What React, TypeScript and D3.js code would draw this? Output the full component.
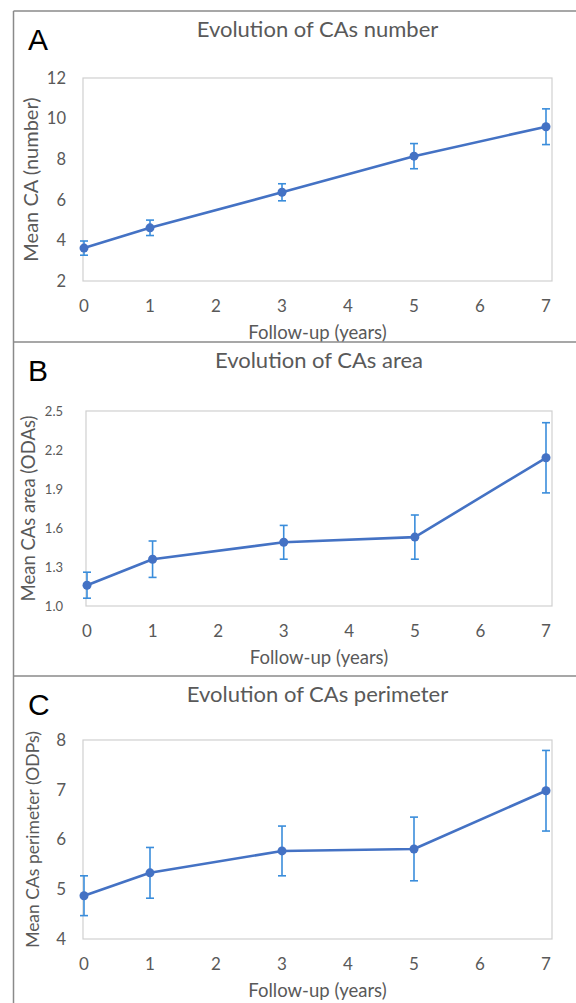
import * as d3 from "d3"

// follow-up years where a measurement exists
const years = [0, 1, 3, 5, 7]
const xTicks = [0, 1, 2, 3, 4, 5, 6, 7]

// A: number of CAs
const numberMean = [3.62, 4.62, 6.37, 8.15, 9.6]
const numberErr = [0.35, 0.38, 0.42, 0.62, 0.88]
const numberTicks = [2, 4, 6, 8, 10, 12]

// B: area (ODAs)
const areaMean = [1.16, 1.36, 1.49, 1.53, 2.14]
const areaErr = [0.1, 0.14, 0.13, 0.17, 0.27]
const areaTicks = [1.0, 1.3, 1.6, 1.9, 2.2, 2.5]

// C: perimeter (ODPs)
const perimMean = [4.87, 5.33, 5.77, 5.81, 6.98]
const perimErr = [0.4, 0.51, 0.5, 0.64, 0.81]
const perimTicks = [4, 5, 6, 7, 8]

const FONT = "Lato, 'Open Sans', sans-serif"
const TEXT = "#595959"
const LINE = "#4472C4"
const ERR = "#3A8DDB"

type PanelProps = {
    letter: string
    title: string
    yTitle: string
    mean: number[]
    err: number[]
    ticks: number[]
    fmt: (v: number) => string
    top: number
    plot: { l: number; r: number; t: number; b: number }
    tickSize: number
    yTitleSize: number
    yLabelRight: number
    yTitleX: number
}

function Panel({ letter, title, yTitle, mean, err, ticks, fmt, top, plot, tickSize, yTitleSize, yLabelRight, yTitleX }: PanelProps) {
    const x = d3.scaleLinear().domain([0, 7]).range([plot.l + 1, plot.r - 6])
    const y = d3
        .scaleLinear()
        .domain([ticks[0], ticks[ticks.length - 1]])
        .range([plot.b, plot.t])

    const series = years.map((yr, i) => ({ yr, v: mean[i], e: err[i] }))
    const path =
        d3
            .line<{ yr: number; v: number }>()
            .x((d) => x(d.yr))
            .y((d) => y(d.v))(series) || ""

    const cx = (plot.l + plot.r) / 2
    const cy = (plot.t + plot.b) / 2

    return (
        <g>
            {/* panel frame */}
            <line x1={13.5} y1={top} x2={576} y2={top} stroke="#8a8a8a" strokeWidth={1.5} />
            <text x={28} y={top + 39} fontFamily="'Liberation Sans', Arial, sans-serif" fontSize={30} fill="#000">
                {letter}
            </text>
            <text x={cx} y={top + 18} dy="0.35em" textAnchor="middle" fontFamily={FONT} fontSize={22} fill={TEXT}>
                {title}
            </text>

            <rect x={plot.l} y={plot.t} width={plot.r - plot.l} height={plot.b - plot.t} fill="none" stroke="#d0d0d0" strokeWidth={1.2} />

            {ticks.map((t) => (
                <text key={t} x={yLabelRight} y={y(t)} dy="0.35em" textAnchor="end" fontFamily={FONT} fontSize={tickSize} fill={TEXT}>
                    {fmt(t)}
                </text>
            ))}
            {xTicks.map((t) => (
                <text key={t} x={x(t)} y={plot.b + 25} dy="0.35em" textAnchor="middle" fontFamily={FONT} fontSize={17} fill={TEXT}>
                    {t}
                </text>
            ))}
            <text x={cx} y={plot.b + 52} dy="0.35em" textAnchor="middle" fontFamily={FONT} fontSize={18.5} fill={TEXT}>
                Follow-up (years)
            </text>
            <text
                transform={`translate(${yTitleX},${cy}) rotate(-90)`}
                dy="0.35em"
                textAnchor="middle"
                fontFamily={FONT}
                fontSize={yTitleSize}
                fill={TEXT}
            >
                {yTitle}
            </text>

            {series.map((d) => {
                const px = x(d.yr)
                const y1 = y(d.v + d.e)
                const y2 = y(d.v - d.e)
                return (
                    <g key={d.yr} stroke={ERR} strokeWidth={1.6}>
                        <line x1={px} x2={px} y1={y1} y2={y2} />
                        <line x1={px - 4} x2={px + 4} y1={y1} y2={y1} />
                        <line x1={px - 4} x2={px + 4} y1={y2} y2={y2} />
                    </g>
                )
            })}
            <path d={path} fill="none" stroke={LINE} strokeWidth={2.6} strokeLinejoin="round" />
            {series.map((d) => (
                <circle key={d.yr} cx={x(d.yr)} cy={y(d.v)} r={4.5} fill={LINE} />
            ))}
        </g>
    )
}

export default function App() {
    return (
        <svg
            width={576}
            height={1003}
            viewBox="0 0 576 1003"
            style={{ position: "absolute", left: 0, top: 0, background: "#fff" }}
        >
            <rect width={576} height={1003} fill="#fff" />
            <line x1={13.5} y1={11} x2={13.5} y2={1003} stroke="#8a8a8a" strokeWidth={1.5} />
            <Panel
                letter="A"
                title="Evolution of CAs number"
                yTitle="Mean CA (number)"
                mean={numberMean}
                err={numberErr}
                ticks={numberTicks}
                fmt={(v) => String(v)}
                top={11}
                plot={{ l: 83, r: 552, t: 78, b: 281 }}
                tickSize={16.5}
                yTitleSize={20}
                yLabelRight={66}
                yTitleX={31}
            />
            <Panel
                letter="B"
                title="Evolution of CAs area"
                yTitle="Mean CAs area (ODAs)"
                mean={areaMean}
                err={areaErr}
                ticks={areaTicks}
                fmt={d3.format(".1f")}
                top={342}
                plot={{ l: 86, r: 552, t: 411, b: 606 }}
                tickSize={13}
                yTitleSize={18.5}
                yLabelRight={63}
                yTitleX={29}
            />
            <Panel
                letter="C"
                title="Evolution of CAs perimeter"
                yTitle="Mean CAs perimeter (ODPs)"
                mean={perimMean}
                err={perimErr}
                ticks={perimTicks}
                fmt={(v) => String(v)}
                top={676}
                plot={{ l: 83, r: 552, t: 740, b: 939 }}
                tickSize={17}
                yTitleSize={17.5}
                yLabelRight={66}
                yTitleX={33}
            />
        </svg>
    )
}
